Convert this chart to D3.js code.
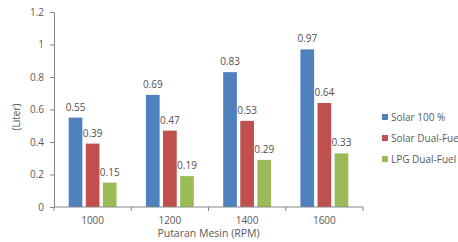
<!DOCTYPE html>
<html>
<head>
<meta charset="utf-8">
<script src="https://cdn.jsdelivr.net/npm/d3@7"></script>
<style>
  body { margin: 0; background: #fff; }
  text { font-family: "Open Sans", "Liberation Sans", sans-serif; fill: #595959; }
</style>
</head>
<body>
<div id="chart"></div>
<script>
// Daten
const categories = ["1000", "1200", "1400", "1600"];
const seriesNames = ["Solar 100 %", "Solar Dual-Fue", "LPG Dual-Fuel"];
const solar100 = [0.55, 0.69, 0.83, 0.97];
const solarDual = [0.39, 0.47, 0.53, 0.64];
const lpgDual = [0.15, 0.19, 0.29, 0.33];
const yTicks = [0, 0.2, 0.4, 0.6, 0.8, 1, 1.2];
const colors = ["#4F81BD", "#C0504D", "#9BBB59"];

const width = 458, height = 242;
const margin = { left: 54, right: 95, top: 12, bottom: 35 };
const innerWidth = width - margin.left - margin.right;
const innerHeight = height - margin.top - margin.bottom;

const data = categories.map((c, i) => ({
  cat: c, values: [solar100[i], solarDual[i], lpgDual[i]]
}));

const xScale = d3.scaleBand()
  .domain(categories)
  .range([0, innerWidth])
  .paddingInner(0.38)
  .paddingOuter(0.19);

const xSub = d3.scaleBand()
  .domain(d3.range(seriesNames.length))
  .range([0, xScale.bandwidth()])
  .paddingInner(0.2);

const yScale = d3.scaleLinear()
  .domain([0, 1.2])
  .range([innerHeight, 0]);

const svg = d3.select("#chart")
  .append("svg")
  .attr("width", width)
  .attr("height", height);

const innerChart = svg.append("g")
  .attr("transform", `translate(${margin.left}, ${margin.top})`);

// Balken
const groups = innerChart.selectAll(".group")
  .data(data)
  .join("g")
  .attr("transform", d => `translate(${xScale(d.cat)}, 0)`);

groups.selectAll("rect")
  .data(d => d.values)
  .join("rect")
  .attr("x", (v, i) => xSub(i))
  .attr("y", v => yScale(v))
  .attr("width", xSub.bandwidth())
  .attr("height", v => innerHeight - yScale(v))
  .attr("fill", (v, i) => colors[i]);

groups.selectAll(".lbl")
  .data(d => d.values)
  .join("text")
  .attr("class", "lbl")
  .attr("x", (v, i) => xSub(i) + xSub.bandwidth() / 2)
  .attr("y", v => yScale(v) - 7)
  .attr("text-anchor", "middle")
  .style("font-size", "10px")
  .style("fill", "#505050")
  .text(v => v);

// Achsen
const leftAxis = d3.axisLeft(yScale)
  .tickValues(yTicks)
  .tickFormat(d => d)
  .tickSize(4)
  .tickSizeOuter(0);

const yAxis = innerChart.append("g").call(leftAxis);
yAxis.selectAll("line, path").attr("stroke", "#868686");
yAxis.selectAll("text").style("font-size", "10px").attr("dx", "-3");

const xAxisG = innerChart.append("g")
  .attr("transform", `translate(0, ${innerHeight})`);
xAxisG.append("line")
  .attr("x1", 0).attr("x2", innerWidth)
  .attr("stroke", "#868686");
// Kategorie-Trennstriche wie in Excel
xAxisG.selectAll(".sep")
  .data(d3.range(categories.length + 1))
  .join("line")
  .attr("x1", i => i * innerWidth / categories.length)
  .attr("x2", i => i * innerWidth / categories.length)
  .attr("y1", 0).attr("y2", 4)
  .attr("stroke", "#868686");
xAxisG.selectAll(".cat")
  .data(categories)
  .join("text")
  .attr("x", d => xScale(d) + xScale.bandwidth() / 2)
  .attr("y", 17)
  .attr("text-anchor", "middle")
  .style("font-size", "10px")
  .text(d => d);

svg.append("text")
  .attr("x", margin.left + innerWidth / 2)
  .attr("y", 237)
  .attr("text-anchor", "middle")
  .style("font-size", "10.5px")
  .text("Putaran Mesin (RPM)");

svg.append("text")
  .attr("transform", "translate(20, 117) rotate(-90)")
  .attr("text-anchor", "middle")
  .style("font-size", "10px")
  .text("(Liter)");

// Legende
const legend = svg.append("g")
  .attr("transform", "translate(382, 117)");
seriesNames.forEach((name, i) => {
  const row = legend.append("g").attr("transform", `translate(0, ${i * 21})`);
  row.append("rect")
    .attr("x", 0).attr("y", -3)
    .attr("width", 6).attr("height", 6)
    .attr("fill", colors[i]);
  row.append("text")
    .attr("x", 9)
    .attr("y", 3.5)
    .style("font-size", "10px")
    .text(name);
});
</script>
</body>
</html>
